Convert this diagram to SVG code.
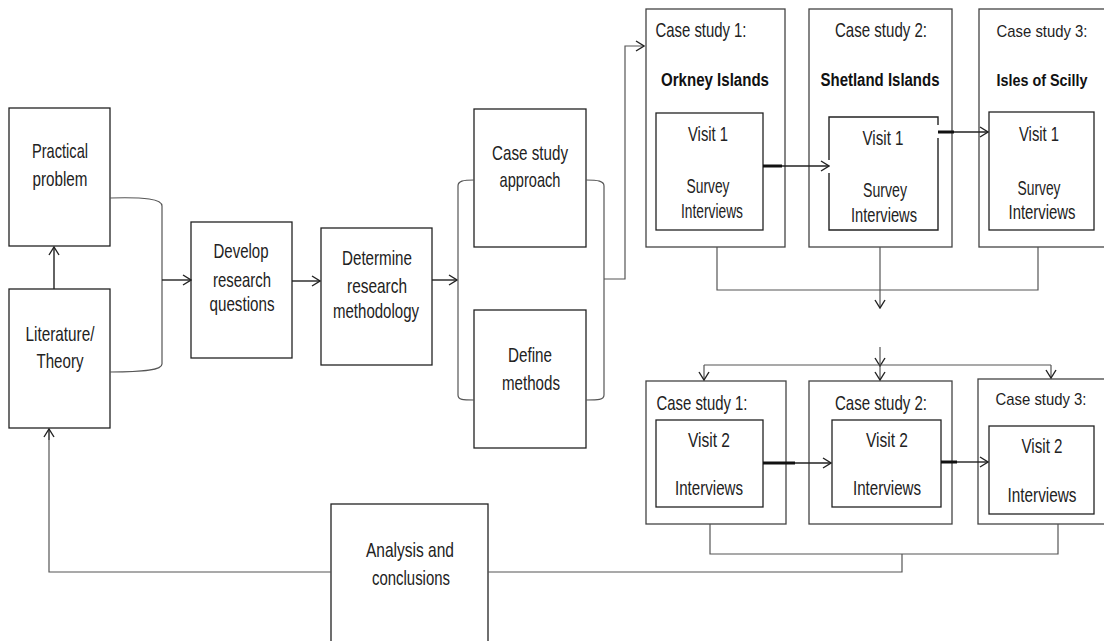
<svg xmlns="http://www.w3.org/2000/svg" width="1104" height="641" viewBox="0 0 1104 641">
<style>
.box{fill:#fff;stroke:#222;stroke-width:1.3}
.outer{fill:#fff;stroke:#444;stroke-width:1.3}
.conn{fill:none;stroke:#555;stroke-width:1.2}
.dark{fill:none;stroke:#222;stroke-width:1.4}
.thick{fill:none;stroke:#111;stroke-width:3}
.t{font-family:"Liberation Sans",Arial,sans-serif;font-size:21px;fill:#222;text-anchor:middle}
.b{font-weight:bold;font-size:18px;fill:#111}
.s{font-size:17px}
.bs{font-size:16px}
</style>
<defs>
<marker id="ah" markerWidth="10" markerHeight="12" refX="9" refY="6" orient="auto" markerUnits="userSpaceOnUse">
<path d="M1,1 L9,6 L1,11" fill="none" stroke="#222" stroke-width="1.4"/>
</marker>
</defs>
<rect width="1104" height="641" fill="#fff"/>

<g id="practical-problem">
<rect class="box" x="9" y="108" width="101" height="138"/>
<text class="t" x="60" y="158" textLength="56" lengthAdjust="spacingAndGlyphs">Practical</text>
<text class="t" x="60" y="186" textLength="55" lengthAdjust="spacingAndGlyphs">problem</text>
</g>
<g id="literature-theory">
<rect class="box" x="9" y="289" width="101" height="139"/>
<text class="t" x="60" y="341" textLength="69" lengthAdjust="spacingAndGlyphs">Literature/</text>
<text class="t" x="60" y="368" textLength="47" lengthAdjust="spacingAndGlyphs">Theory</text>
</g>
<g id="develop">
<rect class="box" x="191" y="222" width="101" height="136"/>
<text class="t" x="241" y="258" textLength="55" lengthAdjust="spacingAndGlyphs">Develop</text>
<text class="t" x="242" y="287" textLength="58" lengthAdjust="spacingAndGlyphs">research</text>
<text class="t" x="242" y="311" textLength="65" lengthAdjust="spacingAndGlyphs">questions</text>
</g>
<g id="determine">
<rect class="box" x="321" y="228" width="111" height="137"/>
<text class="t" x="377" y="265" textLength="70" lengthAdjust="spacingAndGlyphs">Determine</text>
<text class="t" x="377" y="293" textLength="60" lengthAdjust="spacingAndGlyphs">research</text>
<text class="t" x="376" y="318" textLength="86" lengthAdjust="spacingAndGlyphs">methodology</text>
</g>
<g id="case-study-approach">
<rect class="box" x="474" y="109" width="112" height="138"/>
<text class="t" x="530" y="160" textLength="76" lengthAdjust="spacingAndGlyphs">Case study</text>
<text class="t" x="530" y="187" textLength="61" lengthAdjust="spacingAndGlyphs">approach</text>
</g>
<g id="define-methods">
<rect class="box" x="474" y="310" width="112" height="138"/>
<text class="t" x="530" y="362" textLength="44" lengthAdjust="spacingAndGlyphs">Define</text>
<text class="t" x="531" y="390" textLength="58" lengthAdjust="spacingAndGlyphs">methods</text>
</g>
<g id="analysis">
<rect class="box" x="331" y="504" width="157" height="145"/>
<text class="t" x="410" y="557" textLength="88" lengthAdjust="spacingAndGlyphs">Analysis and</text>
<text class="t" x="411" y="585" textLength="78" lengthAdjust="spacingAndGlyphs">conclusions</text>
</g>

<g id="cs1-visit1">
<rect class="outer" x="646" y="9" width="139" height="238"/>
<text class="t" x="701" y="37" textLength="91" lengthAdjust="spacingAndGlyphs">Case study 1:</text>
<text class="t b" x="715" y="86" textLength="108" lengthAdjust="spacingAndGlyphs">Orkney Islands</text>
<rect class="box" x="656" y="113" width="107" height="117"/>
<text class="t" x="708" y="141" textLength="40" lengthAdjust="spacingAndGlyphs">Visit 1</text>
<text class="t" x="708" y="193" textLength="43" lengthAdjust="spacingAndGlyphs">Survey</text>
<text class="t" x="712" y="218" textLength="62" lengthAdjust="spacingAndGlyphs">Interviews</text>
</g>
<g id="cs2-visit1">
<rect class="outer" x="809" y="9" width="143" height="238"/>
<text class="t" x="881" y="37" textLength="92" lengthAdjust="spacingAndGlyphs">Case study 2:</text>
<text class="t b" x="880" y="86" textLength="119" lengthAdjust="spacingAndGlyphs">Shetland Islands</text>
<path class="dark" d="M829,160 L829,117 L938,117 L938,125 M938,138 L938,230 L829,230 L829,173"/>
<text class="t" x="883" y="145" textLength="41" lengthAdjust="spacingAndGlyphs">Visit 1</text>
<text class="t" x="885" y="197" textLength="44" lengthAdjust="spacingAndGlyphs">Survey</text>
<text class="t" x="884" y="222" textLength="66" lengthAdjust="spacingAndGlyphs">Interviews</text>
</g>
<g id="cs3-visit1">
<rect class="outer" x="979" y="9" width="131" height="238"/>
<text class="t s" x="1042" y="37" textLength="91" lengthAdjust="spacingAndGlyphs">Case study 3:</text>
<text class="t b bs" x="1042" y="86" textLength="91" lengthAdjust="spacingAndGlyphs">Isles of Scilly</text>
<rect class="box" x="989" y="112" width="105" height="118"/>
<text class="t" x="1039" y="141" textLength="40" lengthAdjust="spacingAndGlyphs">Visit 1</text>
<text class="t" x="1039" y="195" textLength="43" lengthAdjust="spacingAndGlyphs">Survey</text>
<text class="t" x="1042" y="219" textLength="67" lengthAdjust="spacingAndGlyphs">Interviews</text>
</g>

<g id="cs1-visit2">
<rect class="outer" x="646" y="381" width="140" height="143"/>
<text class="t" x="702" y="410" textLength="91" lengthAdjust="spacingAndGlyphs">Case study 1:</text>
<rect class="box" x="656" y="420" width="107" height="87"/>
<text class="t" x="709" y="447" textLength="42" lengthAdjust="spacingAndGlyphs">Visit 2</text>
<text class="t" x="709" y="495" textLength="68" lengthAdjust="spacingAndGlyphs">Interviews</text>
</g>
<g id="cs2-visit2">
<rect class="outer" x="809" y="381" width="143" height="143"/>
<text class="t" x="881" y="410" textLength="92" lengthAdjust="spacingAndGlyphs">Case study 2:</text>
<rect class="box" x="832" y="420" width="109" height="87"/>
<text class="t" x="887" y="447" textLength="42" lengthAdjust="spacingAndGlyphs">Visit 2</text>
<text class="t" x="887" y="495" textLength="68" lengthAdjust="spacingAndGlyphs">Interviews</text>
</g>
<g id="cs3-visit2">
<rect class="outer" x="978" y="379" width="132" height="145"/>
<text class="t s" x="1041" y="405" textLength="91" lengthAdjust="spacingAndGlyphs">Case study 3:</text>
<rect class="box" x="989" y="426" width="105" height="88"/>
<text class="t" x="1042" y="453" textLength="41" lengthAdjust="spacingAndGlyphs">Visit 2</text>
<text class="t" x="1042" y="502" textLength="69" lengthAdjust="spacingAndGlyphs">Interviews</text>
</g>

<g id="connectors">
<path class="conn" d="M110,198 C145,197 162,199 162,206 L162,364 C162,370 145,372 110,372"/>
<line class="dark" x1="162" y1="280" x2="191" y2="280" marker-end="url(#ah)"/>
<line class="dark" x1="54" y1="289" x2="54" y2="247" marker-end="url(#ah)"/>
<line class="dark" x1="292" y1="281" x2="320" y2="281" marker-end="url(#ah)"/>
<line class="dark" x1="432" y1="280" x2="457" y2="280" marker-end="url(#ah)"/>
<path class="conn" d="M474,180 C463,180 458,181 458,186 L458,395 C458,400 463,400 474,400"/>
<path class="conn" d="M586,180 C598,180 604,181 604,186 L604,395 C604,400 598,400 586,400"/>
<path class="conn" d="M604,279 L625,279 L625,46 L644,46" marker-end="url(#ah)"/>
<line class="thick" x1="763" y1="166" x2="782" y2="166"/>
<line class="dark" x1="782" y1="166" x2="829" y2="166" marker-end="url(#ah)"/>
<line class="thick" x1="938" y1="132" x2="954" y2="132"/>
<line class="dark" x1="954" y1="132" x2="988" y2="132" marker-end="url(#ah)"/>
<path class="conn" d="M717,247 L717,290 L1038,290 L1038,247"/>
<line class="conn" x1="880" y1="247" x2="880" y2="308" marker-end="url(#ah)"/>
<line class="conn" x1="880" y1="347" x2="880" y2="366" marker-end="url(#ah)"/>
<line class="conn" x1="880" y1="366" x2="880" y2="380" marker-end="url(#ah)"/>
<line class="conn" x1="704" y1="365" x2="1051" y2="365"/>
<line class="conn" x1="704" y1="365" x2="704" y2="380" marker-end="url(#ah)"/>
<line class="conn" x1="1051" y1="365" x2="1051" y2="378" marker-end="url(#ah)"/>
<line class="thick" x1="763" y1="463" x2="795" y2="463"/>
<line class="dark" x1="795" y1="463" x2="831" y2="463" marker-end="url(#ah)"/>
<line class="thick" x1="941" y1="462" x2="957" y2="462"/>
<line class="dark" x1="957" y1="462" x2="988" y2="462" marker-end="url(#ah)"/>
<path class="conn" d="M710,524 L710,554 L1058,554 L1058,524"/>
<path class="conn" d="M902,554 L902,572 L488,572"/>
<path class="conn" d="M331,572 L49,572 L49,440"/>
<line class="dark" x1="49" y1="440" x2="49" y2="429" marker-end="url(#ah)"/>
</g>
</svg>
